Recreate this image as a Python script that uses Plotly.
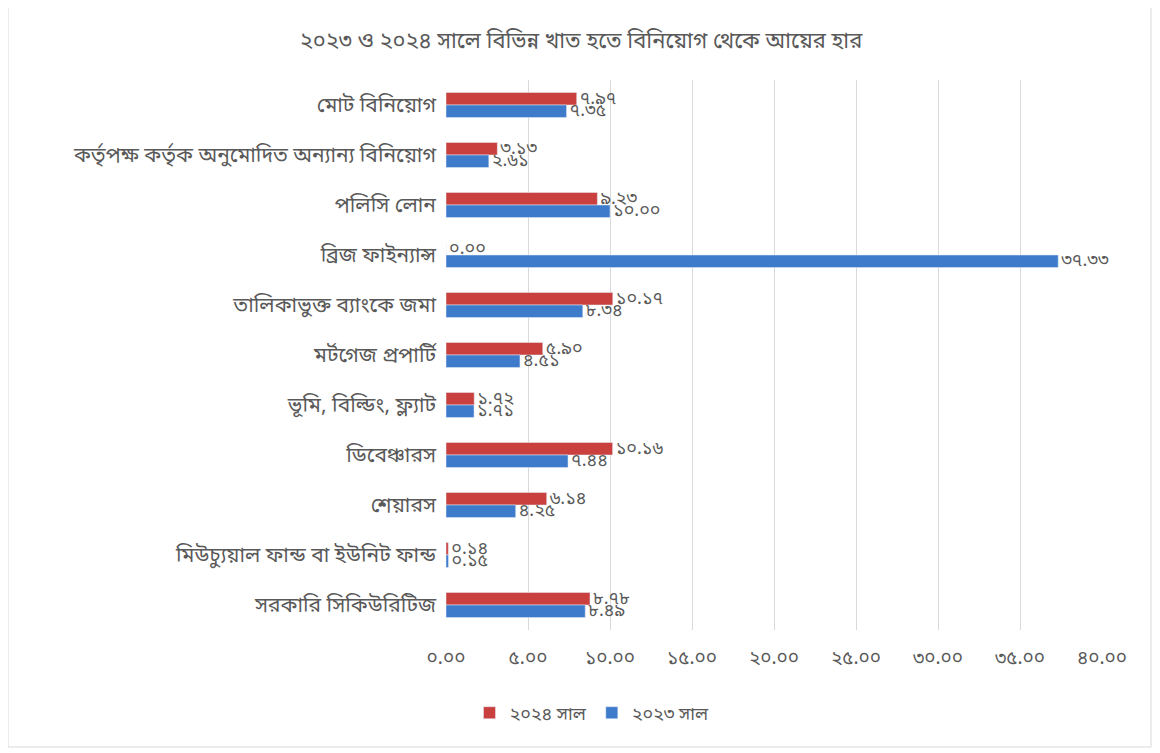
import plotly.graph_objects as go

categories = [
    "মোট বিনিয়োগ",
    "কর্তৃপক্ষ কর্তৃক অনুমোদিত অন্যান্য বিনিয়োগ",
    "পলিসি লোন",
    "ব্রিজ ফাইন্যান্স",
    "তালিকাভুক্ত ব্যাংকে জমা",
    "মর্টগেজ প্রপার্টি",
    "ভূমি, বিল্ডিং, ফ্ল্যাট",
    "ডিবেঞ্চারস",
    "শেয়ারস",
    "মিউচ্যুয়াল ফান্ড বা ইউনিট ফান্ড",
    "সরকারি সিকিউরিটিজ",
]
values_2024 = [7.97, 3.13, 9.23, 0.00, 10.17, 5.90, 1.72, 10.16, 6.14, 0.14, 8.78]
values_2023 = [7.35, 2.61, 10.00, 37.33, 8.34, 4.51, 1.71, 7.44, 4.25, 0.15, 8.49]
series_names = ["২০২৪ সাল", "২০২৩ সাল"]
tick_values = [0, 5, 10, 15, 20, 25, 30, 35, 40]
tick_labels = ["০.০০", "৫.০০", "১০.০০", "১৫.০০", "২০.০০", "২৫.০০", "৩০.০০", "৩৫.০০", "৪০.০০"]
title_text = "২০২৩ ও ২০২৪ সালে বিভিন্ন খাত হতে বিনিয়োগ থেকে আয়ের হার"

BN = str.maketrans("0123456789", "০১২৩৪৫৬৭৮৯")


def bn(v):
    return f"{v:.2f}".translate(BN)


FONT = "Noto Sans Bengali, Noto Sans, DejaVu Sans, sans-serif"
GRAY = "#595959"

fig = go.Figure()
fig.add_trace(go.Bar(
    y=categories, x=values_2024, name=series_names[0], orientation="h",
    marker_color="#C9403E", text=[bn(v) for v in values_2024],
    textposition="outside", cliponaxis=False, constraintext="none",
    textfont=dict(color=GRAY, size=18, family=FONT),
))
fig.add_trace(go.Bar(
    y=categories, x=values_2023, name=series_names[1], orientation="h",
    marker_color="#3E7BCB", text=[bn(v) for v in values_2023],
    textposition="outside", cliponaxis=False, constraintext="none",
    textfont=dict(color=GRAY, size=18, family=FONT),
))

# page body adds an 8px offset; figure coordinates are screen minus 8
OFF = 8
W, H = 1160 - OFF, 753 - OFF
L = 446 - OFF
T = 80 - OFF
R = W - (1102 - OFF)
B = H - (630 - OFF)
pw, ph = W - L - R, H - T - B


def px_x(sx):
    return (sx - OFF - L) / pw


def px_y(sy):
    return (ph - (sy - OFF - T)) / ph


fig.update_layout(
    width=W, height=H,
    margin=dict(l=L, r=R, t=T, b=B, autoexpand=False),
    paper_bgcolor="white", plot_bgcolor="white",
    barmode="group", bargap=0.5, bargroupgap=0,
    font=dict(family=FONT, color=GRAY),
    title=dict(text=title_text, x=px_x(581), xref="paper", xanchor="center",
               y=1 - (40 - OFF) / H, yanchor="middle",
               font=dict(size=22, color=GRAY, family=FONT)),
    xaxis=dict(range=[0, 40], tickvals=tick_values, ticktext=tick_labels,
               showgrid=True, gridcolor="#D9D9D9", gridwidth=1, zeroline=False,
               showline=False, ticks="", ticklabelstandoff=14,
               tickfont=dict(size=19, color=GRAY, family=FONT)),
    yaxis=dict(autorange="reversed", showgrid=False, zeroline=False,
               showline=False, ticks="", ticklabelstandoff=9,
               tickfont=dict(size=21, color=GRAY, family=FONT)),
    legend=dict(orientation="h", x=px_x(592), xanchor="center",
                y=px_y(713), yanchor="middle",
                font=dict(size=18, color=GRAY, family=FONT)),
    shapes=[dict(type="rect", xref="paper", yref="paper",
                 x0=px_x(8), x1=px_x(1151),
                 y0=px_y(747), y1=px_y(6),
                 line=dict(color="#D9D9D9", width=1), fillcolor="rgba(0,0,0,0)",
                 layer="below")],
)

fig.write_html("out.html")
